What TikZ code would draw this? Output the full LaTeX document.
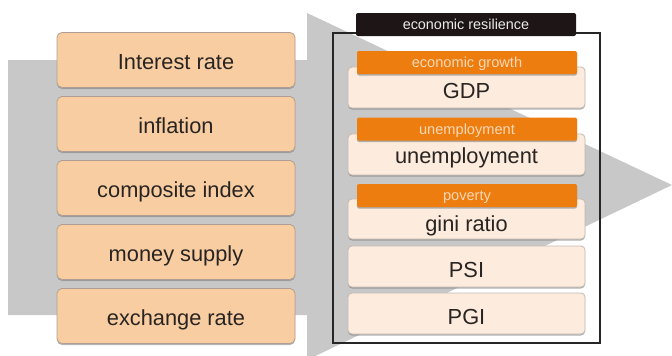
\documentclass[tikz,border=0pt]{standalone}
\usepackage{fontspec}
\setmainfont{Liberation Sans}
\usetikzlibrary{shadows}

\definecolor{arrowgray}{RGB}{200,200,200}
\definecolor{peach}{RGB}{249,205,162}
\definecolor{peachedge}{RGB}{175,158,145}
\definecolor{lightpeach}{RGB}{253,235,221}
\definecolor{cardedge}{RGB}{195,186,178}
\definecolor{orangehead}{RGB}{237,125,15}
\definecolor{headtext}{RGB}{252,216,182}
\definecolor{inktext}{RGB}{40,36,34}
\definecolor{titlebg}{RGB}{30,22,22}

\begin{document}
\begin{tikzpicture}[x=1pt,y=-1pt,
  softshadow/.style={drop shadow={shadow xshift=0pt, shadow yshift=-1.5pt, fill=black!50, opacity=0.6}},
  factor/.style={rectangle, rounded corners=5pt, fill=peach, draw=peachedge, line width=0.8pt,
    minimum width=238pt, minimum height=55pt, inner sep=0pt, text=inktext,
    font=\fontsize{21.8}{25}\selectfont, text height=19.5pt, text depth=0pt, softshadow},
  card/.style={rectangle, rounded corners=4pt, fill=lightpeach, draw=cardedge, line width=0.8pt,
    minimum width=237pt, minimum height=41pt, inner sep=0pt, text=inktext,
    font=\fontsize{21.8}{25}\selectfont, text height=21.5pt, text depth=0pt, softshadow},
  cardtext/.style={inner sep=0pt, text=inktext, font=\fontsize{21.8}{25}\selectfont,
    text height=15.5pt, text depth=0pt},
  header/.style={rectangle, rounded corners=2pt, fill=orangehead, minimum width=220pt,
    minimum height=23pt, inner sep=0pt, text=headtext, font=\fontsize{14.6}{17}\selectfont,
    text height=10.5pt, text depth=0pt, softshadow},
  titlebox/.style={rectangle, rounded corners=2pt, fill=titlebg, minimum width=220pt,
    minimum height=23pt, inner sep=0pt, text=white!92!black, font=\fontsize{14.4}{17}\selectfont,
    text height=10.2pt, text depth=0pt}
]
\useasboundingbox (0,0) rectangle (672,356);

% big background arrow
\begin{scope}
  \clip (0,0) rectangle (672,356);
  \fill[arrowgray] (8,60) -- (307,60) -- (307,13) -- (672,185) -- (307,360)
    -- (307,315) -- (8,315) -- cycle;
\end{scope}

% input factors
\node[factor] (rate)  at (176,60)  {Interest rate};
\node[factor] (infl)  at (176,124) {inflation};
\node[factor] (comp)  at (176,188) {composite index};
\node[factor] (money) at (176,252) {money supply};
\node[factor] (exch)  at (176,316) {exchange rate};

% resilience frame
\draw[line width=1.1pt, black!85] (333,33) rectangle (600,343);
\node[titlebox] (title) at (466,24.5) {economic resilience};

% indicator cards
\node[card] (gdp) at (466.5,87.5) {};
\node[header] (growth) at (467,62.5) {economic growth};
\node[cardtext] (gdptxt) at (466.5,90.5) {GDP};

\node[card] (unemp) at (466.5,154.5) {};
\node[header] (unemphead) at (467,129) {unemployment};
\node[cardtext] (unemptxt) at (466.5,156) {unemployment};

\node[card, minimum height=40pt] (gini) at (466.5,219) {};
\node[header] (poverty) at (467,195.5) {poverty};
\node[cardtext] (ginitxt) at (466.5,223.5) {gini ratio};

\node[card] (psi) at (466.5,266.5) {PSI};
\node[card] (pgi) at (466.5,313.5) {PGI};
\end{tikzpicture}
\end{document}
